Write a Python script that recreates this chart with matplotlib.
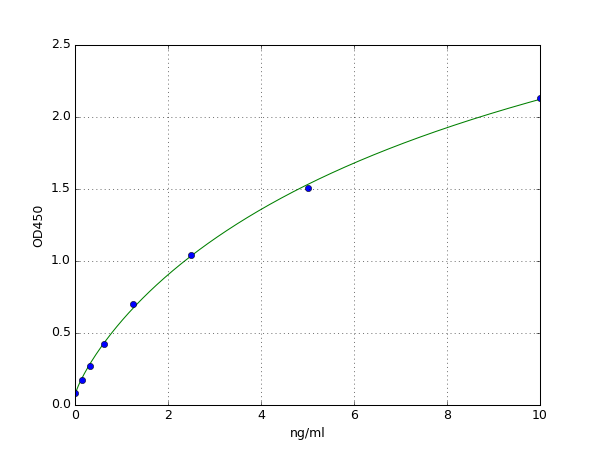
import numpy as np
import matplotlib
matplotlib.use("Agg")
import matplotlib.pyplot as plt

plt.style.use('classic')

conc = [0.0, 0.156, 0.3125, 0.625, 1.25, 2.5, 5.0, 10.0]
od = [0.083, 0.174, 0.27, 0.424, 0.70, 1.042, 1.51, 2.13]
xlabel = "ng/ml"
ylabel = "OD450"

x = np.array(conc)
y = np.array(od)


def model(p, xx):
    a, b, c, d = p
    return d + (a - d) / (1.0 + (np.abs(xx) / c) ** b)


def fit4pl(x, y):
    p = np.array([y.min(), 1.0, 5.0, 4.0])
    lam = 1e-3
    for _ in range(2000):
        r = y - model(p, x)
        J = np.zeros((len(x), 4))
        for k in range(4):
            dp = np.zeros(4)
            dp[k] = 1e-6 * max(1.0, abs(p[k]))
            J[:, k] = (model(p + dp, x) - model(p - dp, x)) / (2 * dp[k])
        A = J.T @ J
        g = J.T @ r
        step = np.linalg.solve(A + lam * np.diag(np.diag(A) + 1e-12), g)
        pn = p + step
        if pn[2] > 0 and pn[1] > 0 and np.sum((y - model(pn, x)) ** 2) < np.sum(r ** 2):
            p = pn
            lam *= 0.5
        else:
            lam *= 4
    return p


p = fit4pl(x, y)
xs = np.linspace(0, 10, 400)

fig = plt.figure(figsize=(8, 6), dpi=75)
ax = fig.add_subplot(111)
ax.plot(xs, model(p, xs), color='g', lw=1)
ax.plot(x, y, 'o', color='b', markersize=6)
ax.set_xlim(0, 10)
ax.set_ylim(0, 2.5)
ax.set_xlabel(xlabel)
ax.set_ylabel(ylabel)
ax.grid(True)
fig.savefig("out.png", dpi=75)
